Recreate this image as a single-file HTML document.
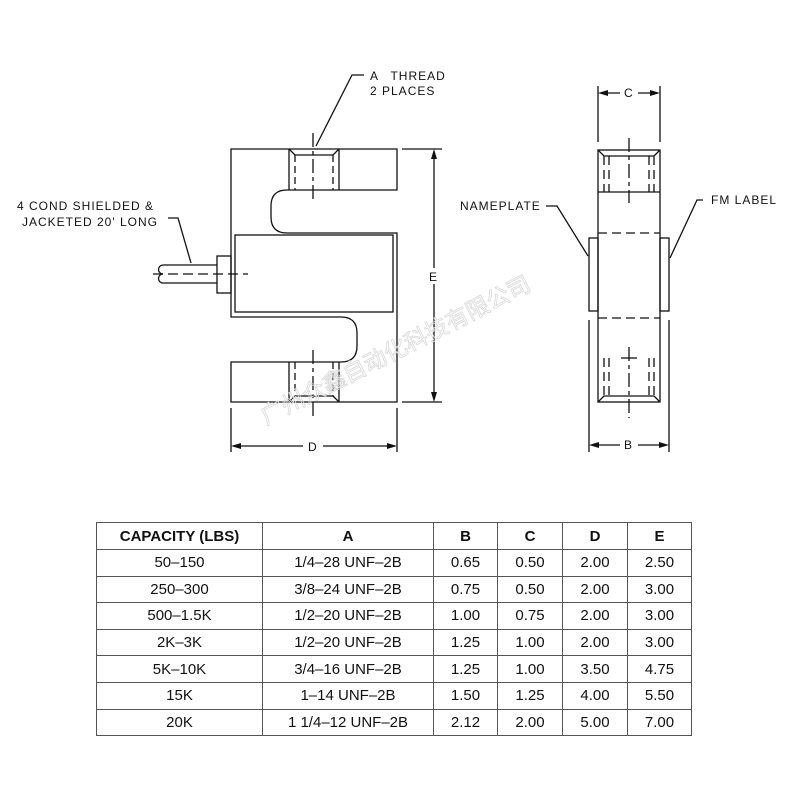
<!DOCTYPE html>
<html><head><meta charset="utf-8"><style>
html,body{margin:0;padding:0;background:#fff;width:800px;height:800px;overflow:hidden}
svg{position:absolute;left:0;top:0}
.t{font-family:"Liberation Sans",sans-serif;font-size:12px;fill:#111;letter-spacing:1px}
table{position:absolute;left:96px;top:522px;border-collapse:collapse;font-family:"Liberation Sans",sans-serif;font-size:15px;color:#111}
td{border:1.5px solid #555;height:25.6px;padding:0;text-align:center}
th{border:1.5px solid #555;height:26px;padding:0;font-weight:bold;font-size:15px}
</style></head><body>
<svg width="800" height="800" viewBox="0 0 800 800">
<g fill="none" stroke="#111" stroke-width="1.3">
<!-- left view body -->
<path d="M231,149 H397 V190 H287 Q271,190 271,206 V217 Q271,233 287,233 H397 V402 H231 V362 H341 Q357,362 357,346 V333 Q357,317 341,317 H231 Z"/>
<rect x="235" y="235" width="158" height="77"/>
<!-- top hole -->
<line x1="289" y1="149" x2="289" y2="190"/><line x1="339" y1="149" x2="339" y2="190"/>
<path d="M289,149 L295,155 H333 L339,149"/>
<path d="M295,155 V190 M333,155 V190" stroke-dasharray="7,4"/>
<line x1="313" y1="133" x2="313" y2="202" stroke-dasharray="14,4,4,4"/>
<!-- bottom hole -->
<line x1="289" y1="362" x2="289" y2="402"/><line x1="339" y1="362" x2="339" y2="402"/>
<path d="M289,402 L295,396 H333 L339,402"/>
<path d="M295,362 V396 M333,362 V396" stroke-dasharray="7,4"/>
<line x1="313" y1="350" x2="313" y2="418" stroke-dasharray="14,4,4,4"/>
<!-- cable -->
<rect x="217" y="256" width="14" height="37"/>
<path d="M217,265 H163 A4.5,4.5 0 0 0 163,274 A4.5,4.5 0 0 0 163,283 H217"/>
<line x1="153" y1="274" x2="248" y2="274" stroke-dasharray="10,5"/>
<path d="M168,218 H178 L191,263"/>
<!-- thread leader -->
<path d="M364,75 H352 L316,146"/>
<!-- E dim -->
<line x1="402" y1="149" x2="442" y2="149"/><line x1="402" y1="402" x2="442" y2="402"/>
<line x1="434" y1="153" x2="434" y2="268"/><line x1="434" y1="284" x2="434" y2="398"/>
<!-- D dim -->
<line x1="231" y1="408" x2="231" y2="452"/><line x1="397" y1="408" x2="397" y2="452"/>
<line x1="235" y1="446" x2="303" y2="446"/><line x1="323" y1="446" x2="393" y2="446"/>
<!-- right view -->
<rect x="598" y="150" width="62" height="252"/>
<line x1="598" y1="192" x2="660" y2="192"/>
<path d="M598,150 L604,156 H654 L660,150 M598,402 L604,396 H654 L660,402"/>
<path d="M604,156 V192 M654,156 V192 M604,358 V396 M654,358 V396 M598,233 H660 M598,318 H660 M609,156 V192 M649,156 V192 M609,358 V396 M649,358 V396" stroke-dasharray="9,5"/>
<line x1="629" y1="138" x2="629" y2="203" stroke-dasharray="14,4,4,4"/>
<line x1="629" y1="347" x2="629" y2="418" stroke-dasharray="14,4,4,4"/>
<line x1="621" y1="358" x2="637" y2="358"/>
<rect x="589" y="238" width="9" height="73"/><rect x="660" y="238" width="9" height="73"/>
<!-- C dim -->
<line x1="598" y1="86" x2="598" y2="142"/><line x1="660" y1="86" x2="660" y2="142"/>
<line x1="602" y1="93" x2="620" y2="93"/><line x1="638" y1="93" x2="656" y2="93"/>
<!-- B dim -->
<line x1="589" y1="320" x2="589" y2="452"/><line x1="669" y1="320" x2="669" y2="452"/>
<line x1="593" y1="445" x2="620" y2="445"/><line x1="638" y1="445" x2="665" y2="445"/>
<!-- leaders -->
<path d="M546,206 H557 L588,256"/>
<path d="M703,200 H697 L670,258"/>
</g>
<g fill="#111">
<path d="M434,149 l-3,10 h6z M434,402 l-3,-10 h6z M231,446 l10,-3 v6z M397,446 l-10,-3 v6z M598,93 l10,-3 v6z M660,93 l-10,-3 v6z M589,445 l10,-3 v6z M669,445 l-10,-3 v6z"/>
</g>
<text class="t" x="370" y="80" style="word-spacing:8px">A THREAD</text>
<text class="t" x="370" y="95">2 PLACES</text>
<text class="t" x="17" y="210">4 COND SHIELDED &amp;</text>
<text class="t" x="22" y="226">JACKETED 20' LONG</text>
<text class="t" x="429" y="281">E</text>
<text class="t" x="308" y="451">D</text>
<text class="t" x="624" y="97">C</text>
<text class="t" x="624" y="449">B</text>
<text class="t" x="460" y="210">NAMEPLATE</text>
<text class="t" x="711" y="204">FM  LABEL</text>
<text x="0" y="0" transform="translate(266,425) rotate(-27)" style="font-family:'Noto Sans CJK SC',sans-serif;font-size:23px;fill:none;stroke:#d8d8d8;stroke-width:0.8">广州众鑫自动化科技有限公司</text>
</svg>
<table>
<tr><th style="width:165px">CAPACITY (LBS)</th><th style="width:170px">A</th><th style="width:63px">B</th><th style="width:64px">C</th><th style="width:64px">D</th><th style="width:63px">E</th></tr>
<tr><td>50–150</td><td>1/4–28 UNF–2B</td><td>0.65</td><td>0.50</td><td>2.00</td><td>2.50</td></tr>
<tr><td>250–300</td><td>3/8–24 UNF–2B</td><td>0.75</td><td>0.50</td><td>2.00</td><td>3.00</td></tr>
<tr><td>500–1.5K</td><td>1/2–20 UNF–2B</td><td>1.00</td><td>0.75</td><td>2.00</td><td>3.00</td></tr>
<tr><td>2K–3K</td><td>1/2–20 UNF–2B</td><td>1.25</td><td>1.00</td><td>2.00</td><td>3.00</td></tr>
<tr><td>5K–10K</td><td>3/4–16 UNF–2B</td><td>1.25</td><td>1.00</td><td>3.50</td><td>4.75</td></tr>
<tr><td>15K</td><td>1–14 UNF–2B</td><td>1.50</td><td>1.25</td><td>4.00</td><td>5.50</td></tr>
<tr><td>20K</td><td>1 1/4–12 UNF–2B</td><td>2.12</td><td>2.00</td><td>5.00</td><td>7.00</td></tr>
</table>
</body></html>
